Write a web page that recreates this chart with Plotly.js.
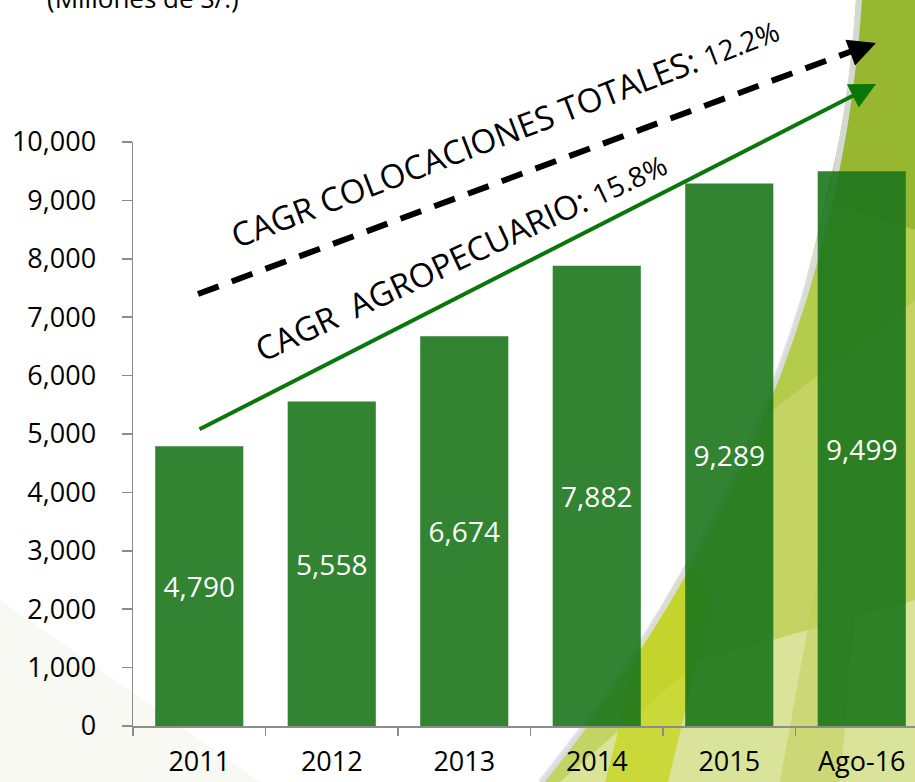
<!DOCTYPE html>
<html>
<head>
<meta charset="utf-8">
<script src="https://cdn.plot.ly/plotly-3.0.1.min.js"></script>
<style>
  html, body { margin: 0; padding: 0; background: #ffffff; }
  #chart { width: 915px; height: 782px; }
</style>
</head>
<body>
<div id="chart"></div>
<script>
// ---- data ----
const categories = ["2011", "2012", "2013", "2014", "2015", "Ago-16"];
const colocaciones = [4790, 5558, 6674, 7882, 9289, 9499];
const yTicks = [0, 1000, 2000, 3000, 4000, 5000, 6000, 7000, 8000, 9000, 10000];
const unitLabel = "(Millones de S/.)";
const cagrTotal = "CAGR COLOCACIONES TOTALES:";
const cagrTotalValue = "12.2%";
const cagrAgro = "CAGR\u00a0 AGROPECUARIO:";
const cagrAgroValue = "15.8%";

// ---- layout helpers (pixel -> paper) ----
const W = 915, H = 782;
const M = { l: 133, r: 0, t: 142, b: 56 };
const PW = W - M.l - M.r, PH = H - M.t - M.b;
const px = x => (x - M.l) / PW;
const py = y => (H - M.b - y) / PH;
const pathP = (pts, close) => pts.map((p, i) => {
  if (p[0] === 'Q') return 'Q ' + px(p[1]) + ' ' + py(p[2]) + ' ' + px(p[3]) + ' ' + py(p[4]);
  return (i === 0 ? 'M ' : 'L ') + px(p[0]) + ' ' + py(p[1]);
}).join(' ') + (close === false ? '' : ' Z');

const FONT = "Open Sans, Noto Sans, DejaVu Sans, sans-serif";

const trace = {
  type: 'bar',
  x: categories,
  y: colocaciones,
  width: 0.665,
  marker: { color: 'rgba(28,118,28,0.9)', line: { width: 0 } },
  texttemplate: '%{y:,d}',
  textposition: 'inside',
  insidetextanchor: 'middle',
  textangle: 0,
  constraintext: 'none',
  textfont: { family: FONT, size: 28, color: '#ffffff' },
  hoverinfo: 'skip'
};

const bg = (pts, color) => ({ type: 'path', xref: 'paper', yref: 'paper', layer: 'below',
  path: pathP(pts), fillcolor: color, line: { width: 0 } });

const shapes = [
  // faint light area at lower left
  bg([[0, 600], [260, 782], [0, 782]], 'rgba(244,246,236,0.7)'),
  // decorative swoosh background
  bg([[858, 0], ['Q', 830, 420, 540, 782], [915, 782], [915, 0]], '#c4d463'),
  bg([[856, 0], ['Q', 848, 120, 825, 200], [915, 230], [915, 0]], 'rgba(145,178,40,0.85)'),
  bg([[825, 200], ['Q', 800, 320, 760, 420], [915, 300], [915, 230]], 'rgba(170,196,60,0.6)'),
  bg([[560, 782], [700, 660], [915, 600], [915, 782]], 'rgba(226,233,178,0.7)'),
  bg([[642, 640], [688, 560], [712, 600], [668, 782], [605, 782]], 'rgba(198,212,25,0.75)'),
  bg([[780, 782], [820, 560], [860, 560], [840, 782]], 'rgba(190,206,80,0.5)'),
  { type: 'path', xref: 'paper', yref: 'paper', layer: 'below',
    path: pathP([[859, 0], ['Q', 831, 420, 541, 782]], false),
    fillcolor: 'rgba(0,0,0,0)', line: { width: 6, color: 'rgba(222,222,240,0.85)' } },
  // dashed CAGR line
  { type: 'line', xref: 'paper', yref: 'paper',
    x0: px(198), y0: py(294), x1: px(855), y1: py(50),
    line: { color: '#000000', width: 6, dash: '22px,14px' } }
];

const annotations = [
  { xref: 'paper', yref: 'paper', x: px(45), y: py(18), xanchor: 'left', yanchor: 'bottom',
    text: unitLabel, showarrow: false, font: { family: FONT, size: 26, color: '#000' } },
  // black arrow head for dashed line
  { xref: 'paper', yref: 'paper', x: px(876), y: py(43), ax: -24, ay: 9, text: '',
    showarrow: true, arrowhead: 2, arrowsize: 1.1, arrowwidth: 5, arrowcolor: '#000000' },
  // green arrow
  { xref: 'paper', yref: 'paper', x: px(876), y: py(84), ax: 198 - 876, ay: 430 - 84, text: '',
    showarrow: true, arrowhead: 2, arrowsize: 1.3, arrowwidth: 4, arrowcolor: '#0a770a' },
  // rotated labels
  { xref: 'paper', yref: 'paper', x: px(504), y: py(132), xanchor: 'center', yanchor: 'middle',
    textangle: -21, showarrow: false,
    text: cagrTotal + ' <span style="font-size:28px">' + cagrTotalValue + '</span>',
    font: { family: FONT, size: 33, color: '#000' } },
  { xref: 'paper', yref: 'paper', x: px(460), y: py(256), xanchor: 'center', yanchor: 'middle',
    textangle: -25, showarrow: false,
    text: cagrAgro + ' <span style="font-size:28px">' + cagrAgroValue + '</span>',
    font: { family: FONT, size: 33, color: '#000' } }
];

const layout = {
  width: W, height: H,
  margin: M,
  paper_bgcolor: '#ffffff',
  plot_bgcolor: 'rgba(0,0,0,0)',
  showlegend: false,
  bargap: 0.335,
  font: { family: FONT, color: '#000' },
  xaxis: {
    type: 'category',
    range: [-0.5, -0.5 + PW / 132.5],
    fixedrange: true,
    showgrid: false, zeroline: false,
    showline: true, linecolor: '#8c8c8c', linewidth: 1.5,
    ticks: 'outside', tickson: 'boundaries', ticklen: 8, tickwidth: 1.5, tickcolor: '#8c8c8c',
    tickfont: { family: FONT, size: 27, color: '#000' },
    ticklabelstandoff: 11
  },
  yaxis: {
    range: [0, 10000],
    fixedrange: true,
    tickvals: yTicks,
    tickformat: ',d',
    showgrid: false, zeroline: false,
    showline: true, linecolor: '#8c8c8c', linewidth: 1.5,
    ticks: 'outside', ticklen: 10, tickwidth: 1.5, tickcolor: '#8c8c8c',
    tickfont: { family: FONT, size: 27, color: '#000' },
    ticklabelstandoff: 20
  },
  shapes: shapes,
  annotations: annotations
};

Plotly.newPlot('chart', [trace], layout, { displayModeBar: false, staticPlot: true });
</script>
</body>
</html>
